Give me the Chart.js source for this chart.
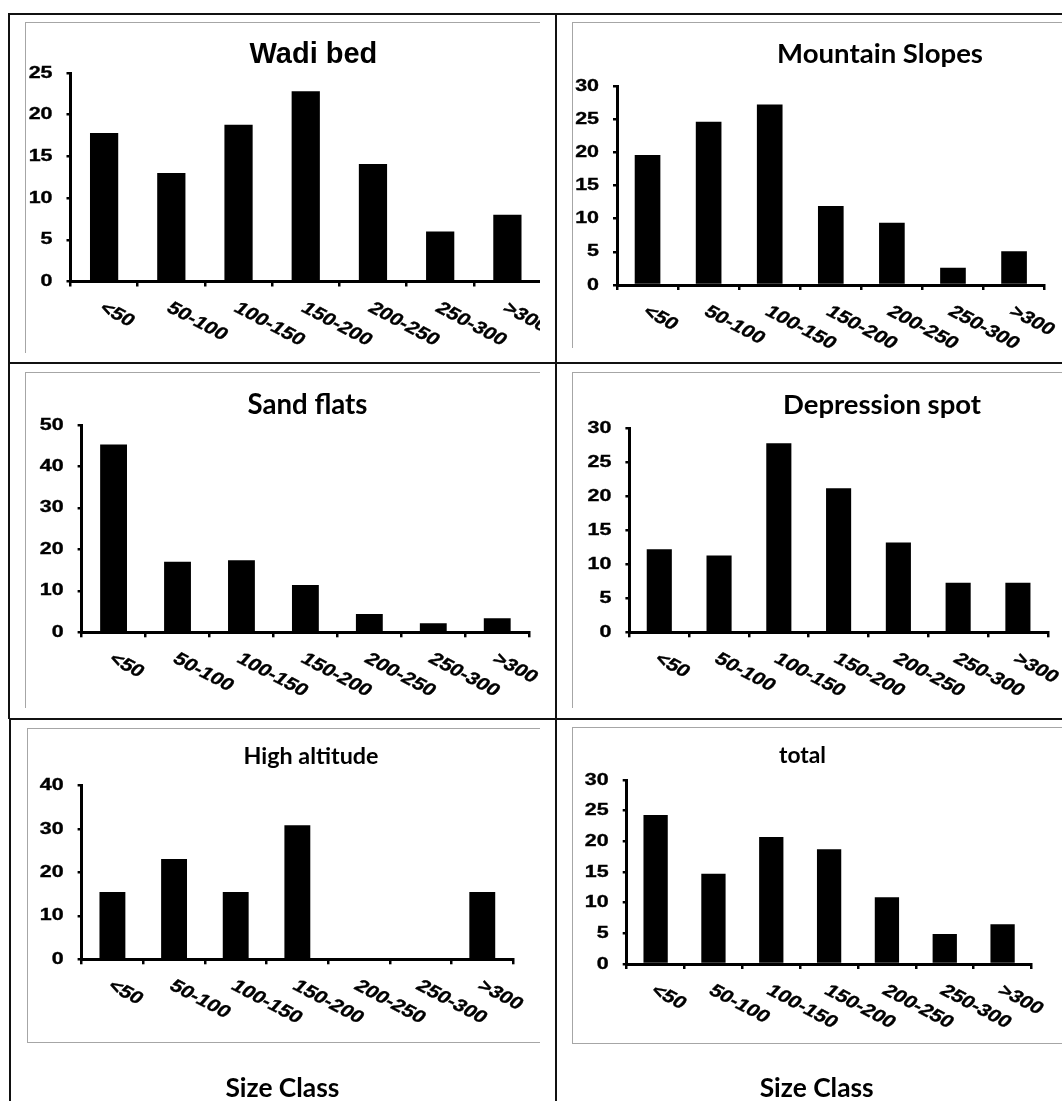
<!DOCTYPE html>
<html>
<head>
<meta charset="utf-8">
<script src="https://cdn.jsdelivr.net/npm/chart.js@4/dist/chart.umd.min.js"></script>
<style>
html,body{margin:0;padding:0;background:#fff;}
body{width:1062px;height:1101px;position:relative;overflow:hidden;}
.rule{position:absolute;background:#111;z-index:3;}
.clip{position:absolute;overflow:hidden;z-index:1;}
.frame{position:absolute;box-sizing:border-box;border:1px solid #a6a6a6;}
.clip canvas{position:absolute;left:0;top:0;}
#overlay{position:absolute;left:0;top:0;z-index:2;pointer-events:none;}
</style>
</head>
<body>
<canvas id="overlay" width="1062" height="1101"></canvas>
<script>
// ---------------- data ----------------
const sizeClasses    = ['<50', '50-100', '100-150', '150-200', '200-250', '250-300', '>300'];
const wadiBed        = [17.8, 13.0, 18.8, 22.8, 14.1, 6.0, 8.0];
const mountainSlopes = [19.6, 24.6, 27.2, 11.9, 9.4, 2.6, 5.1];
const sandFlats      = [45.3, 17.0, 17.4, 11.4, 4.4, 2.2, 3.4];
const depressionSpot = [12.2, 11.3, 27.8, 21.2, 13.2, 7.3, 7.3];
const highAltitude   = [15.5, 23.1, 15.5, 30.9, 0, 0, 15.5];
const total          = [24.3, 14.7, 20.7, 18.7, 10.9, 4.9, 6.5];
const panelTitles    = ['Wadi bed', 'Mountain Slopes', 'Sand flats', 'Depression spot', 'High altitude', 'total'];
const axisMax        = [25, 30, 50, 30, 40, 30];
const axisStep       = [5, 5, 10, 5, 10, 5];
const xAxisTitle     = 'Size Class';
const seriesList     = [wadiBed, mountainSlopes, sandFlats, depressionSpot, highAltitude, total];

// ---------------- layout / style ----------------
const ARIAL = '"Liberation Sans", Arial, sans-serif';
const CALIBRI = 'Lato, "Open Sans", sans-serif';
const layout = [
  {clip:[25,22,540,353],  frameBottom:null, plot:[70.5,541,73,281.5],   title:{x:313.4,y:63.3,font:'bold 29px '+ARIAL}},
  {clip:[572,22,1062,348],frameBottom:null, plot:[617,1044.6,86,285],   title:{x:880,y:63.3,w:206}},
  {clip:[25,372,540,708], frameBottom:null, plot:[81.6,529.2,425,632.3],title:{x:307.5,y:414.3,w:120}},
  {clip:[572,372,1062,708],frameBottom:null,plot:[629.4,1047.8,428.3,632.3],title:{x:882,y:414.3,w:198}},
  {clip:[27,728,540,1043],frameBottom:1042, plot:[81.6,513.1,785.7,959.3],title:{x:311,y:764,w:135}},
  {clip:[572,727,1062,1044],frameBottom:1043,plot:[626.7,1031.5,780,964],title:{x:802.5,y:762.7,w:47}}
];
const sizeClassPos = [{x:282.4,y:1097.3,w:114},{x:816.7,y:1097,w:114}];
const SX = 1.3;            // horizontal stretch of tick text
const ROT = 34.5*Math.PI/180;

function fitSize(ctx, text, targetW, family){
  ctx.font = 'bold 100px ' + family;
  return 100 * targetW / ctx.measureText(text).width;
}

const excelText = {
  id: 'excelText',
  afterDraw(chart, args, opts){
    const ctx = chart.ctx, xs = chart.scales.x, ys = chart.scales.y, ca = chart.chartArea;
    ctx.save();
    ctx.fillStyle = '#000';
    ctx.strokeStyle = '#000';
    ctx.lineWidth = 0.35;
    // y tick labels
    ctx.font = 'bold 16.5px ' + ARIAL;
    ctx.textAlign = 'right'; ctx.textBaseline = 'middle';
    ys.ticks.forEach(t => {
      const y = ys.getPixelForValue(t.value);
      ctx.save(); ctx.translate(ca.left - 18, y); ctx.scale(SX, 1);
      ctx.fillText(t.label, 0, 0); ctx.strokeText(t.label, 0, 0); ctx.restore();
    });
    // x tick labels (rotated clockwise, stretched)
    ctx.font = 'bold 17px ' + ARIAL;
    ctx.textAlign = 'left'; ctx.textBaseline = 'alphabetic';
    const base = ys.getPixelForValue(0);
    chart.data.labels.forEach((lab, i) => {
      const x = xs.getPixelForValue(i);
      ctx.save(); ctx.translate(x - 6, base + 29); ctx.scale(SX, 1); ctx.rotate(ROT);
      ctx.fillText(lab, 0, 0); ctx.strokeText(lab, 0, 0); ctx.restore();
    });
    // panel title
    const t = opts.title;
    if (t.font) ctx.font = t.font;
    else ctx.font = 'bold ' + fitSize(ctx, opts.text, t.w, CALIBRI).toFixed(2) + 'px ' + CALIBRI;
    ctx.textAlign = 'center'; ctx.textBaseline = 'alphabetic';
    ctx.fillText(opts.text, t.x - opts.L, t.y - opts.T);
    ctx.restore();
  }
};

function addRule(l, t, w, h){
  const d = document.createElement('div');
  d.className = 'rule';
  Object.assign(d.style, {left:l+'px', top:t+'px', width:w+'px', height:h+'px'});
  document.body.appendChild(d);
}
// table rules
addRule(8, 13, 1062-8, 2);
addRule(8, 13, 2, 706);
addRule(9, 718, 2, 1101-718);
addRule(555, 13, 2, 1101-13);
addRule(8, 362, 1062-8, 2);
addRule(9, 718, 1062-9, 2);

layout.forEach((p, k) => {
  const [L, T, R, B] = p.clip;
  const [pl, pr, pt, pb] = p.plot;
  const wrap = document.createElement('div');
  wrap.className = 'clip';
  Object.assign(wrap.style, {left:L+'px', top:T+'px', width:(R-L)+'px', height:(B-T)+'px'});
  const frame = document.createElement('div');
  frame.className = 'frame';
  const fh = p.frameBottom ? (p.frameBottom - T + 1) : (B - T + 40);
  Object.assign(frame.style, {left:'0px', top:'0px', width:(R-L+60)+'px', height:fh+'px'});
  wrap.appendChild(frame);
  const cw = Math.ceil(Math.max(R, pr + 45) - L), ch = B - T;
  const cv = document.createElement('canvas');
  cv.width = cw; cv.height = ch;
  cv.style.width = cw+'px'; cv.style.height = ch+'px';
  wrap.appendChild(cv);
  document.body.appendChild(wrap);

  new Chart(cv, {
    type: 'bar',
    data: {
      labels: sizeClasses,
      datasets: [{data: seriesList[k], backgroundColor:'#000', borderWidth:0,
                  barPercentage:0.42, categoryPercentage:1.0}]
    },
    options: {
      responsive:false, animation:false, devicePixelRatio:1,
      layout:{padding:{left:0, top:pt - T, right:cw - (pr - L), bottom:0}},
      plugins:{legend:{display:false}, tooltip:{enabled:false}, title:{display:false},
               excelText:{title:p.title, text:panelTitles[k], L:L, T:T}},
      scales:{
        x:{type:'category', offset:true,
           ticks:{display:false},
           grid:{display:true, offset:true, drawOnChartArea:false, drawTicks:true, tickLength:5, color:'#000', lineWidth:2.5},
           border:{display:true, color:'#000', width:3},
           afterFit:s => { s.height = ch - (pb - T); }},
        y:{min:0, max:axisMax[k],
           ticks:{display:false, stepSize:axisStep[k]},
           grid:{display:true, drawOnChartArea:false, drawTicks:true, tickLength:4, color:'#000', lineWidth:2.5},
           border:{display:true, color:'#000', width:3},
           afterFit:s => { s.width = pl - L; }}
      }
    },
    plugins:[excelText]
  });
});

// "Size Class" captions
const oc = document.getElementById('overlay').getContext('2d');
oc.fillStyle = '#000';
oc.textAlign = 'center'; oc.textBaseline = 'alphabetic';
sizeClassPos.forEach(s => {
  oc.font = 'bold ' + fitSize(oc, xAxisTitle, s.w, CALIBRI).toFixed(2) + 'px ' + CALIBRI;
  oc.fillText(xAxisTitle, s.x, s.y);
});
</script>
</body>
</html>
